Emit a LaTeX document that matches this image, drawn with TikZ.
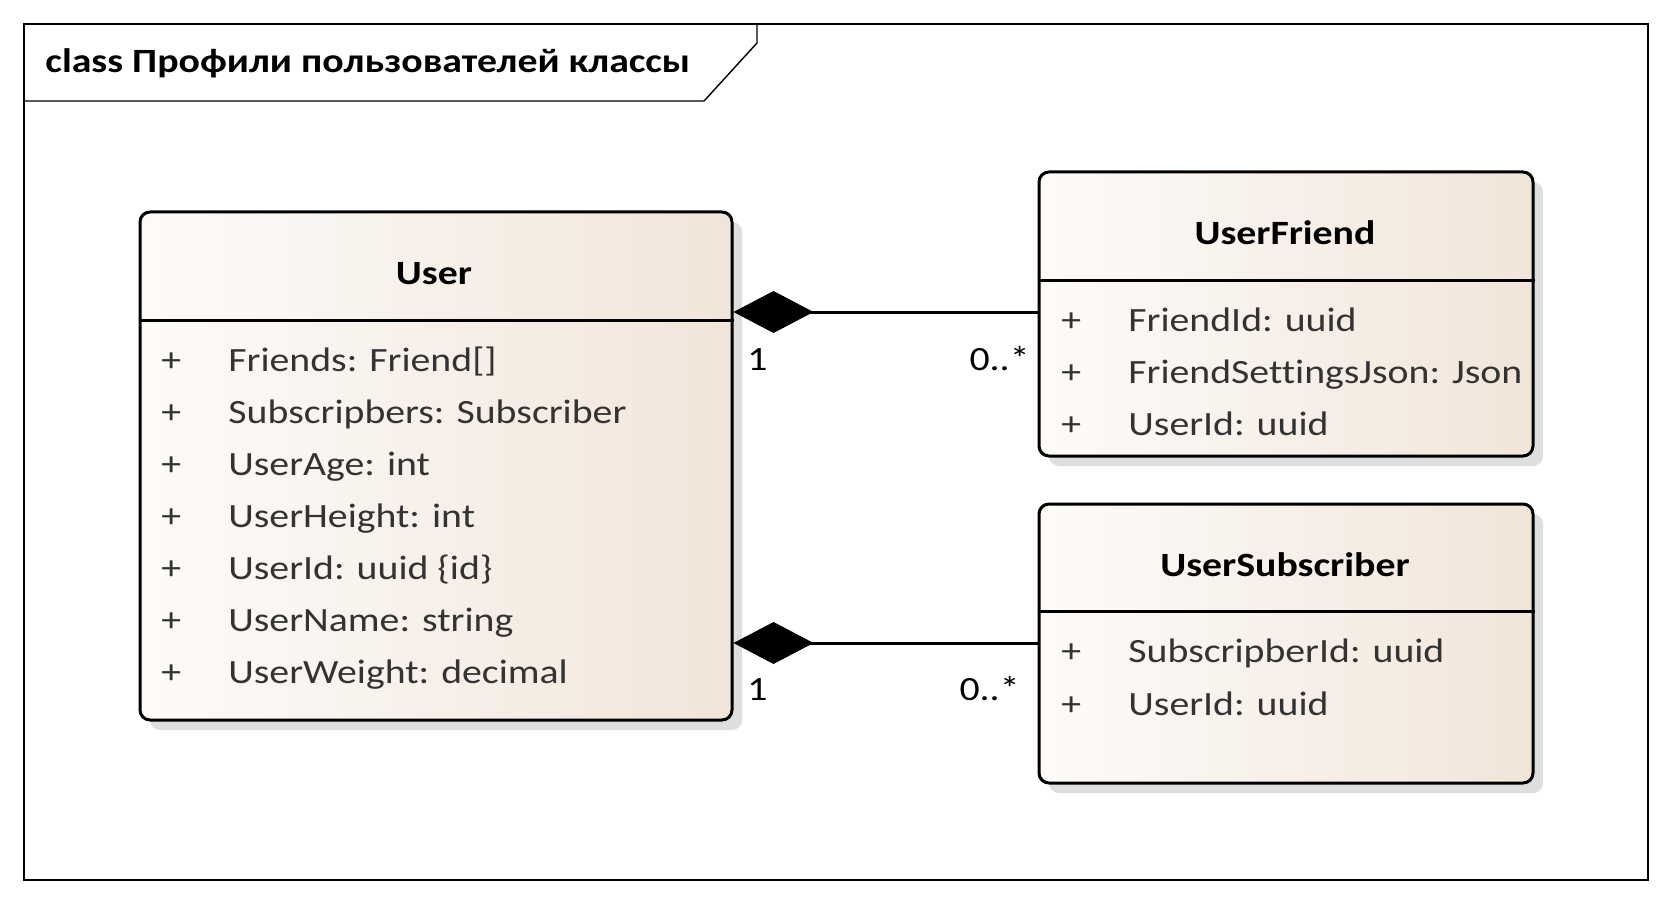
\documentclass[tikz,border=0pt]{standalone}
\usepackage{fontspec}
\setmainfont{Carlito}[FakeStretch=1.17,Ligatures=NoCommon]
\usetikzlibrary{arrows.meta}
\usetikzlibrary{shadows}

\definecolor{boxL}{HTML}{FDFBF9}
\definecolor{boxR}{HTML}{F1E5D9}
\definecolor{attrtext}{HTML}{333333}
\definecolor{shadowgray}{HTML}{DEDEDE}

\tikzset{
  classbox/.style={draw,line width=1.5pt,rounded corners=5pt,left color=boxL,right color=boxR,
    drop shadow={shadow xshift=5pt,shadow yshift=-5pt,fill=shadowgray,opacity=1}},
  classname/.style={font=\bfseries\fontsize{17}{20}\selectfont},
  attr/.style={anchor=base west,inner sep=0pt,text=attrtext,font=\fontsize{17}{20}\selectfont},
  mult/.style={inner sep=0pt,font=\fontsize{17}{20}\selectfont},
  comp/.style={line width=1.5pt,{Diamond[length=40pt,width=21pt]}-}
}

\begin{document}
\begin{tikzpicture}[x=0.5pt,y=-0.5pt]
\useasboundingbox (0,0) rectangle (1672,904);

% frame
\draw[line width=0.7pt] (24,24) rectangle (1648,880);
\draw[line width=0.7pt] (24,101) -- (704,101) -- (757,43) -- (757,24);
\node[anchor=base west,inner sep=0pt,font=\bfseries\fontsize{17}{20}\selectfont] (title) at (45,73) {class Профили пользователей классы};

% classes
\node[classbox,minimum width=296pt,minimum height=254pt] (user) at (436,466) {};
\node[classbox,minimum width=247pt,minimum height=142pt] (ufriend) at (1286,314) {};
\node[classbox,minimum width=247pt,minimum height=139.5pt] (usub) at (1286,643.5) {};

\draw[line width=1.5pt] (user.west |- 0,320) -- (user.east |- 0,320);
\draw[line width=1.5pt] (ufriend.west |- 0,280) -- (ufriend.east |- 0,280);
\draw[line width=1.5pt] (usub.west |- 0,611) -- (usub.east |- 0,611);

\node[classname] (userT) at (434,274) {User};
\node[classname] (ufriendT) at (1285,233) {UserFriend};
\node[classname] (usubT) at (1285,565) {UserSubscriber};

\foreach \t [count=\i] in {Friends: Friend[],Subscripbers: Subscriber,UserAge: int,UserHeight: int,{UserId: uuid \{id\}},UserName: string,UserWeight: decimal}
{
  \node[attr] (up\i) at (161,320+51.9*\i) {+};
  \node[attr] (ua\i) at (228,320+51.9*\i) {\t};
}
\foreach \t [count=\i] in {FriendId: uuid,FriendSettingsJson: Json,UserId: uuid}
{
  \node[attr] (fp\i) at (1061,279+52*\i) {+};
  \node[attr] (fa\i) at (1128,279+52*\i) {\t};
}
\foreach \t [count=\i] in {SubscripberId: uuid,UserId: uuid}
{
  \node[attr] (sp\i) at (1061,609+53*\i) {+};
  \node[attr] (sa\i) at (1128,609+53*\i) {\t};
}

% connectors
\coordinate (c1) at (0,312);
\coordinate (c2) at (0,643);
\draw[comp] (user.east |- c1) -- (ufriend.west |- c1);
\draw[comp] (user.east |- c2) -- (usub.west |- c2);

\node[mult,anchor=base west] (m1) at (747,370) {1};
\node[mult,anchor=base east] (m2) at (1030,370) {0..*};
\node[mult,anchor=base west] (m3) at (747,700) {1};
\node[mult,anchor=base east] (m4) at (1020,700) {0..*};

\end{tikzpicture}
\end{document}
